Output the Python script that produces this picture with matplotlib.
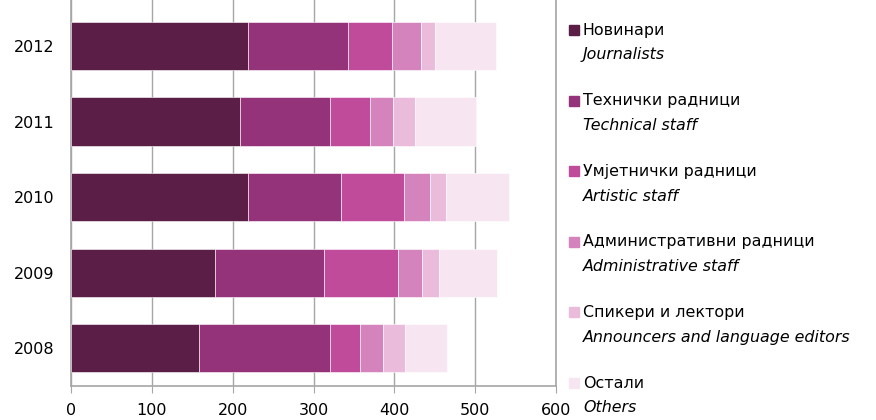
import numpy as np
import matplotlib
matplotlib.use('Agg')
import matplotlib.pyplot as plt
from matplotlib.patches import Rectangle

plt.rcParams['font.family'] = ['DejaVu Sans']

years = ['2008', '2009', '2010', '2011', '2012']
journalists = [158, 178, 219, 209, 219]
technical = [162, 135, 115, 111, 124]
artistic = [37, 92, 78, 50, 54]
administrative = [29, 29, 32, 28, 36]
announcers = [27, 21, 20, 27, 17]
others = [52, 72, 78, 76, 76]

labels_mk = ['Новинари', 'Технички радници', 'Умјетнички радници',
             'Административни радници', 'Спикери и лектори', 'Остали']
labels_en = ['Journalists', 'Technical staff', 'Artistic staff',
             'Administrative staff', 'Announcers and language editors', 'Others']
colors = ['#5A1E47', '#94337A', '#C04B9B', '#D483BD', '#EBBBDB', '#F7E6F2']

series = [journalists, technical, artistic, administrative, announcers, others]

fig = plt.figure(figsize=(8.76, 4.2), dpi=100)
ax = fig.add_axes([71 / 876, 1 - 386 / 420, (556 - 71) / 876, 386 / 420])

y = np.arange(len(years))
left = np.zeros(len(years))
for vals, c in zip(series, colors):
    ax.barh(y, vals, left=left, height=0.64, color=c, edgecolor='white',
            linewidth=0.4, zorder=3)
    left += np.array(vals)

ax.set_xlim(0, 600)
ax.set_ylim(-0.5, 4.61)
ax.set_xticks(range(0, 601, 100))
ax.set_yticks(y)
ax.set_yticklabels(years)
ax.grid(axis='x', color='#A6A6A6', linewidth=1, zorder=0)
for s in ['left', 'right', 'bottom']:
    ax.spines[s].set_color('#A6A6A6')
    ax.spines[s].set_linewidth(1.2)
ax.spines['top'].set_visible(False)
ax.tick_params(axis='x', length=5, color='#A6A6A6', labelsize=11.5, pad=7.5)
ax.tick_params(axis='y', length=0, labelsize=11.5, pad=12)

# legend drawn by hand: Macedonian label with italic English below
for i, (mk, en, c) in enumerate(zip(labels_mk, labels_en, colors)):
    ytop = 30 + i * 70.6
    fig.patches.append(Rectangle((569 / 876, 1 - (ytop + 5) / 420), 10 / 876, 10 / 420,
                                 transform=fig.transFigure, color=c))
    fig.text(583 / 876, 1 - ytop / 420, mk, fontsize=11.4, va='center')
    fig.text(583 / 876, 1 - (ytop + 25) / 420, en, fontsize=11.4, va='center',
             style='italic')

fig.savefig('out.png', dpi=100)
